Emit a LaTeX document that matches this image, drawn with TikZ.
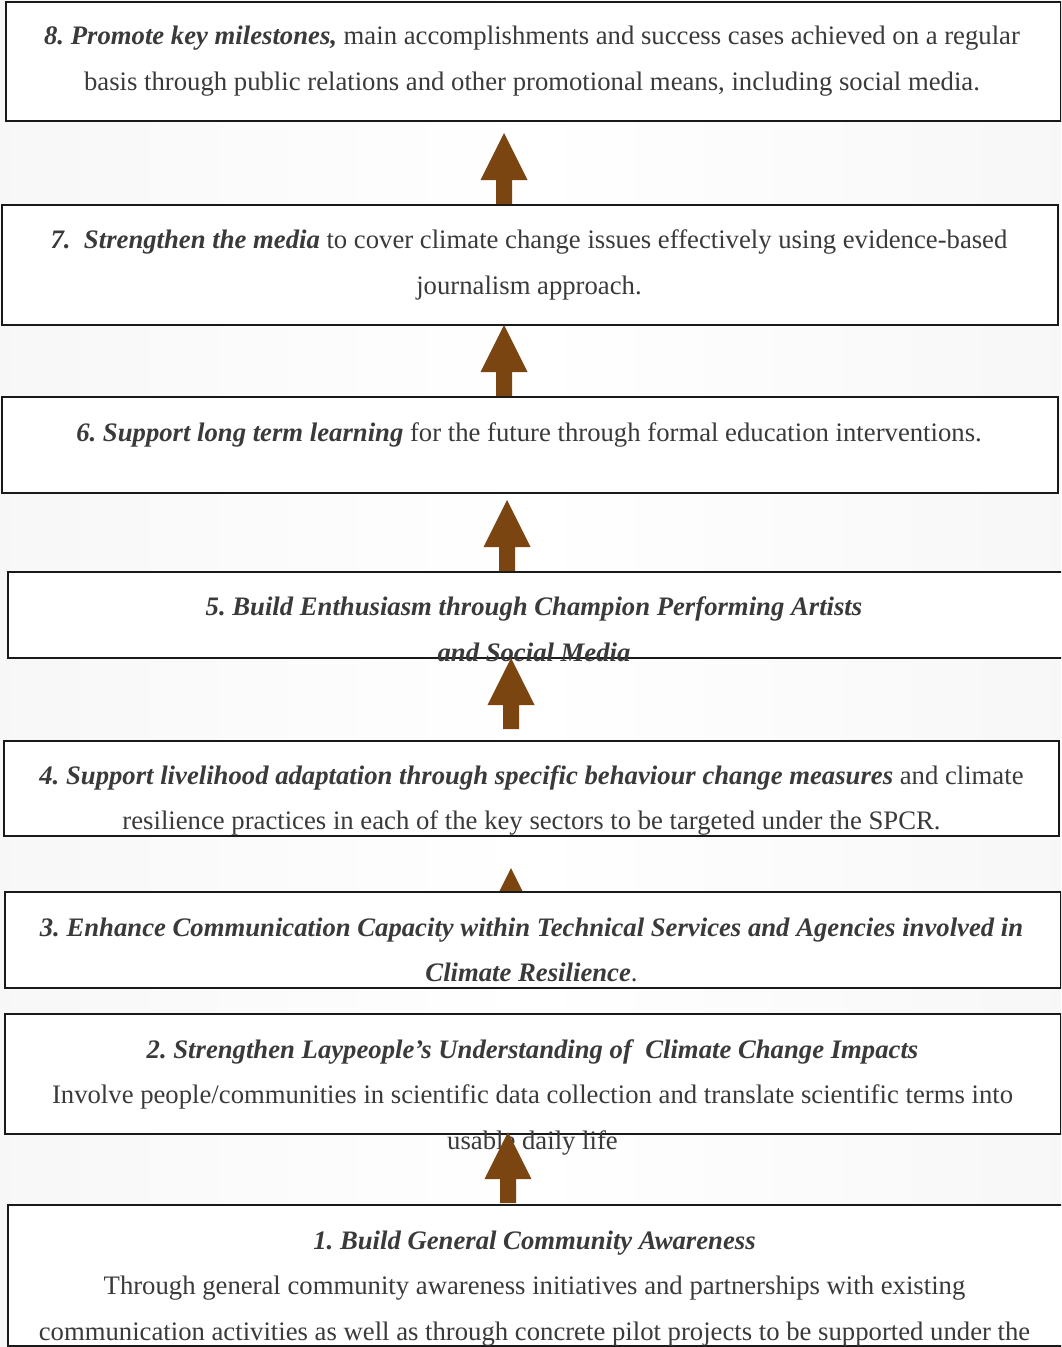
\documentclass[tikz,border=0pt]{standalone}
\usepackage{fontspec}
\setmainfont{Liberation Serif}
\usepackage{tikz}
\usetikzlibrary{positioning}
\definecolor{arrowbrown}{HTML}{7A4511}
\definecolor{textgrey}{HTML}{3A3A3A}

\tikzset{
  box/.style={draw=black!90, line width=1.6pt, fill=white, inner sep=0pt, anchor=north west},
  txt/.style={text=textgrey, align=center, inner sep=0pt, font=\fontsize{26.7}{45.5}\selectfont\frenchspacing},
  uparr/.pic={\fill[arrowbrown] (0,0) -- (23.5,47) -- (8,47) -- (8,71) -- (-8,71) -- (-8,47) -- (-23.5,47) -- cycle;}
}
\newcommand{\bi}[1]{\textbf{\textit{#1}}}

\begin{document}
\begin{tikzpicture}[x=1pt,y=-1pt]
  \useasboundingbox (0,0) rectangle (1061,1347);
  \clip (0,0) rectangle (1061,1347);
  %background
  \shade[left color=black!3, right color=black!3, middle color=white] (0,0) rectangle (1061,1347);

  %arrow hidden behind box 3
  \coordinate (a3) at (511,868);
  \pic at (a3) {uparr};

  %boxes
  \node[box, minimum width=1055pt, minimum height=119pt] (b8) at (5,1) {};
  \node[box, minimum width=1056pt, minimum height=120pt] (b7) at (1,204) {};
  \node[box, minimum width=1056pt, minimum height=96pt] (b6) at (1,396) {};
  \node[box, minimum width=1070pt, minimum height=86pt] (b5) at (7,571) {};
  \node[box, minimum width=1055pt, minimum height=95pt] (b4) at (3,740) {};
  \node[box, minimum width=1056pt, minimum height=96pt] (b3) at (4,891) {};
  \node[box, minimum width=1056pt, minimum height=120pt] (b2) at (4,1013) {};
  \node[box, minimum width=1070pt, minimum height=141pt] (b1) at (7,1204) {};

  %texts
  \node[txt] (t8) at (532,61) {\bi{8. Promote key milestones,} main accomplishments and success cases achieved on a regular\\
    basis through public relations and other promotional means, including social media.};
  \node[txt] (t7) at (529,265) {\bi{7.\ \ Strengthen the media} to cover climate change issues effectively using evidence-based\\
    journalism approach.};
  \node[txt] (t6) at (529,435) {\bi{6. Support long term learning} for the future through formal education interventions.};
  \node[txt] (t5) at (534,629) {\bi{5. Build Enthusiasm through Champion Performing Artists}\\
    \bi{and Social Media}};
  \node[txt] (t4) at (531.5,800.5) {\bi{4. Support livelihood adaptation through specific behaviour change measures} and climate\\
    resilience practices in each of the key sectors to be targeted under the SPCR.};
  \node[txt] (t3) at (531.5,950) {\bi{3. Enhance Communication Capacity within Technical Services and Agencies involved in}\\
    \bi{Climate Resilience}.};
  \node[txt] (t2) at (532.5,1097) {\bi{2. Strengthen Laypeople’s Understanding of\ \ Climate Change Impacts}\\
    Involve people/communities in scientific data collection and translate scientific terms into\\
    usable daily life};
  \node[txt] (t1) at (534.5,1288.5) {\bi{1. Build General Community Awareness}\\
    Through general community awareness initiatives and partnerships with existing\\
    communication activities as well as through concrete pilot projects to be supported under the};

  %arrows
  \foreach \n/\x/\y in {8/504/133, 7/504/325, 6/507/500, 5/511/658, 1/508/1132}{
    \coordinate (a\n) at (\x,\y);
    \pic at (a\n) {uparr};
  }
\end{tikzpicture}
\end{document}
